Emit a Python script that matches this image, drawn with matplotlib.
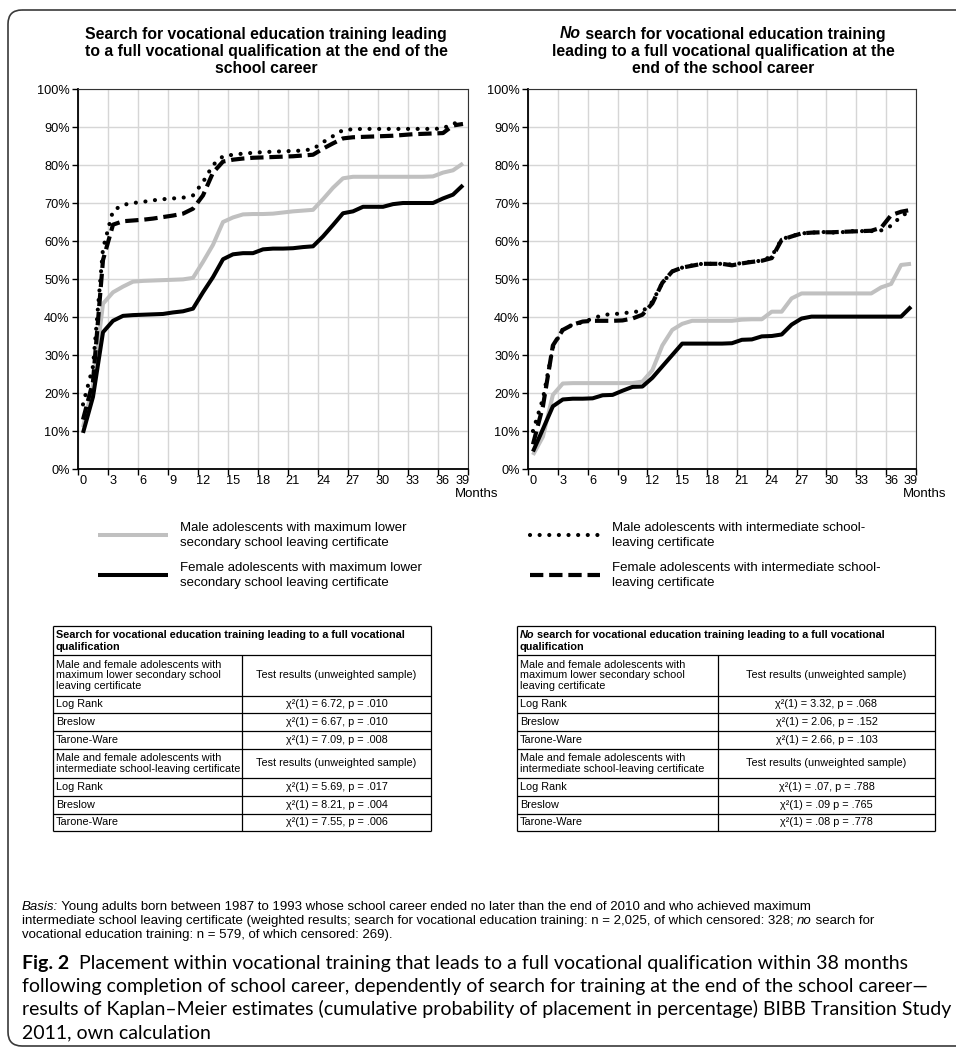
import matplotlib.pyplot as plt
import numpy as np
from matplotlib.patches import FancyBboxPatch

plt.rcParams['font.family'] = ['Liberation Sans', 'DejaVu Sans']

# === Data ===
MONTHS = np.arange(39)
LABEL_MONTHS = [0, 3, 6, 9, 12, 15, 18, 21, 24, 27, 30, 33, 36, 38]
LABEL_TEXT = ['0', '3', '6', '9', '12', '15', '18', '21', '24', '27', '30', '33', '36', '39']
Y_TICKS = np.arange(0, 101, 10)

# left panel: search for training
SEARCH_MALE_LOWER = [11, 22, 43.5, 46.5, 48, 49.3, 49.5, 49.6, 49.7, 49.8, 49.9, 50.3, 54.5, 59,
                     65, 66.2, 67, 67.1, 67.1, 67.2, 67.5, 67.8, 68, 68.2, 71, 74, 76.5, 76.9,
                     76.9, 76.9, 76.9, 76.9, 76.9, 76.9, 76.9, 77, 78, 78.6, 80.4]
SEARCH_FEMALE_LOWER = [9.5, 19, 36, 39, 40.3, 40.5, 40.6, 40.7, 40.8, 41.2, 41.5, 42.2, 46.5, 50.5,
                       55.2, 56.5, 56.8, 56.8, 57.8, 58, 58, 58.1, 58.4, 58.6, 61.2, 64.2, 67.3, 67.8,
                       69, 69, 69, 69.7, 70, 70, 70, 70, 71.2, 72.2, 74.7]
SEARCH_MALE_INTER = [17, 27, 58, 68, 69.5, 70, 70.3, 70.7, 71, 71.2, 71.4, 72, 75.5, 80,
                     82.3, 82.7, 83, 83.2, 83.4, 83.5, 83.6, 83.7, 83.8, 84.2, 86, 87.6, 89.2, 89.4,
                     89.5, 89.5, 89.5, 89.5, 89.5, 89.5, 89.5, 89.5, 89.6, 91, 90.8]
SEARCH_FEMALE_INTER = [13, 23, 55, 64.3, 65.2, 65.4, 65.6, 65.9, 66.3, 66.7, 67.2, 68.5, 72, 78,
                       80.9, 81.4, 81.7, 81.9, 82, 82.1, 82.2, 82.3, 82.5, 82.7, 84.3, 85.7, 87, 87.3,
                       87.4, 87.5, 87.6, 87.7, 87.9, 88.1, 88.2, 88.3, 88.4, 90.4, 90.8]

# right panel: no search for training
NOSEARCH_MALE_LOWER = [3.7, 8.5, 19.5, 22.5, 22.6, 22.6, 22.6, 22.6, 22.6, 22.6, 22.6, 23, 26, 32.5,
                       36.6, 38.2, 39, 39, 39, 39, 39, 39.3, 39.4, 39.4, 41.4, 41.4, 44.9, 46.2,
                       46.2, 46.2, 46.2, 46.2, 46.2, 46.2, 46.2, 47.8, 48.7, 53.7, 54]
NOSEARCH_FEMALE_LOWER = [4.6, 10.5, 16.5, 18.3, 18.5, 18.5, 18.6, 19.4, 19.5, 20.6, 21.6, 21.7, 24, 27,
                         30, 33, 33, 33, 33, 33, 33.1, 34, 34.1, 34.9, 35, 35.4, 38, 39.6,
                         40.1, 40.1, 40.1, 40.1, 40.1, 40.1, 40.1, 40.1, 40.1, 40.1, 42.7]
NOSEARCH_MALE_INTER = [10, 18.5, 32, 36.8, 38, 38.6, 39.6, 40.5, 40.8, 40.9, 41.4, 41.4, 44, 49,
                       52, 53, 53.6, 54, 54, 54, 53.8, 54.2, 54.6, 54.8, 56, 60.5, 61.3, 62,
                       62.2, 62.4, 62.2, 62.3, 62.6, 62.6, 62.6, 62.8, 64, 66.5, 68]
NOSEARCH_FEMALE_INTER = [6.5, 16.5, 32.5, 36.6, 38, 38.8, 39, 39, 39, 39.1, 39.6, 40.6, 43.6, 49,
                         52, 53, 53.5, 54, 54, 54, 53.6, 54.1, 54.5, 54.8, 55.5, 60.3, 61.2, 62,
                         62.2, 62.3, 62.3, 62.4, 62.5, 62.6, 62.7, 63.5, 66.8, 67.7, 68.2]

SERIES_LABELS = ["Male adolescents with maximum lower\nsecondary school leaving certificate",
                 "Female adolescents with maximum lower\nsecondary school leaving certificate",
                 "Male adolescents with intermediate school-\nleaving certificate",
                 "Female adolescents with intermediate school-\nleaving certificate"]

# test tables
GROUP_LABELS = ["Male and female adolescents with\nmaximum lower secondary school\nleaving certificate",
                "Male and female adolescents with\nintermediate school-leaving certificate"]
RESULT_HEADER = "Test results (unweighted sample)"
TEST_NAMES = ["Log Rank", "Breslow", "Tarone-Ware"]
SEARCH_RESULTS = ["χ²(1) = 6.72, p = .010", "χ²(1) = 6.67, p = .010", "χ²(1) = 7.09, p = .008",
                  "χ²(1) = 5.69, p = .017", "χ²(1) = 8.21, p = .004", "χ²(1) = 7.55, p = .006"]
NOSEARCH_RESULTS = ["χ²(1) = 3.32, p = .068", "χ²(1) = 2.06, p = .152", "χ²(1) = 2.66, p = .103",
                    "χ²(1) = .07, p = .788", "χ²(1) = .09 p = .765", "χ²(1) = .08 p = .778"]

# === Styles ===
STYLES = [dict(color='#c0c0c0', lw=2.9, ls='-', solid_capstyle='butt'),
          dict(color='black', lw=2.9, ls='-', solid_capstyle='butt'),
          dict(color='black', lw=3.0, ls=(0, (0.01, 2.3)), dash_capstyle='round'),
          dict(color='black', lw=3.0, ls=(0, (3.2, 1.4)), dash_capstyle='butt')]
W, H = 956, 1050
TITLE_FS = 11.3
TABLE_FS = 7.8
NOTE_FS = 9.5
CAP_FS = 14

fig = plt.figure(figsize=(W / 100, H / 100), dpi=100)
ov = fig.add_axes([0, 0, 1, 1])
ov.set_xlim(0, W)
ov.set_ylim(H, 0)
ov.axis('off')
renderer = fig.canvas.get_renderer()


def rich_line(x, y, parts, ha='left', size=9, family=None):
    texts, cx = [], x
    for s, kw in parts:
        t = ov.text(cx, y, s, fontsize=size, va='baseline', ha='left', **kw)
        if family:
            t.set_family(family)
        cx += t.get_window_extent(renderer).width
        texts.append(t)
    if ha == 'center':
        shift = (cx - x) / 2
        for t in texts:
            t.set_x(t.get_position()[0] - shift)


def draw_panel(rect, series, title_lines, title_cx):
    ax = fig.add_axes([rect[0] / W, 1 - rect[3] / H, (rect[2] - rect[0]) / W, (rect[3] - rect[1]) / H])
    lines = []
    for vals, st in zip(series, STYLES):
        lines += ax.plot(MONTHS, vals, **st)
    ax.set_xlim(-0.5, 38.5)
    ax.set_ylim(0, 100)
    ax.set_xticks(np.arange(-0.5, 39, 3))
    ax.set_xticklabels([])
    ax.set_xticks(LABEL_MONTHS, minor=True)
    ax.set_xticklabels(LABEL_TEXT, minor=True, fontsize=9.2)
    ax.tick_params(axis='x', which='minor', length=0, pad=4)
    ax.set_yticks(Y_TICKS)
    ax.set_yticklabels([f"{v}%" for v in Y_TICKS], fontsize=9.2)
    ax.tick_params(which='major', length=4, width=1, direction='out', pad=2)
    ax.grid(True, which='major', color='#d6d6d6', lw=1)
    ax.set_axisbelow(True)
    for side in ['left', 'bottom']:
        ax.spines[side].set_linewidth(1.3)
    for side in ['top', 'right']:
        ax.spines[side].set_color('#333333')
    for i, parts in enumerate(title_lines):
        rich_line(title_cx, 38.5 + 17.3 * i, parts, ha='center', size=TITLE_FS)
    ov.text(rect[2] + 30, 497, "Months", fontsize=9.5, ha='right', va='baseline')
    return lines


B = dict(weight='bold')
BI = dict(weight='bold', style='italic')
lines = draw_panel((78, 89, 468, 469),
                   [SEARCH_MALE_LOWER, SEARCH_FEMALE_LOWER, SEARCH_MALE_INTER, SEARCH_FEMALE_INTER],
                   [[("Search for vocational education training leading", B)],
                    [("to a full vocational qualification at the end of the", B)],
                    [("school career", B)]], 266)
draw_panel((528, 89, 916, 469),
           [NOSEARCH_MALE_LOWER, NOSEARCH_FEMALE_LOWER, NOSEARCH_MALE_INTER, NOSEARCH_FEMALE_INTER],
           [[("No", BI), (" search for vocational education training", B)],
            [("leading to a full vocational qualification at the", B)],
            [("end of the school career", B)]], 723)

leg = fig.legend(lines, SERIES_LABELS, ncol=2, loc='upper left', bbox_to_anchor=(98 / W, 1 - 522 / H),
                 frameon=False, fontsize=9.5, handlelength=5.3, handletextpad=0.9, columnspacing=8.2,
                 labelspacing=1.0, borderpad=0, borderaxespad=0)
for t in leg.get_texts():
    t.set_linespacing(1.3)


def row_h(n):
    return 6.5 + 11.3 * n


def draw_table(x0, xs, x1, top, title_parts, results):
    rows = [(GROUP_LABELS[0], RESULT_HEADER)] + list(zip(TEST_NAMES, results[:3]))
    rows += [(GROUP_LABELS[1], RESULT_HEADER)] + list(zip(TEST_NAMES, results[3:]))
    y = top
    rich_line(x0 + 3, y + 12, title_parts[0], size=TABLE_FS)
    rich_line(x0 + 3, y + 24, title_parts[1], size=TABLE_FS)
    ov.hlines(y, x0, x1, color='black', lw=0.9)
    y += row_h(2)
    ov.hlines(y, x0, x1, color='black', lw=0.9)
    ys = y
    for left, right in rows:
        h = row_h(left.count('\n') + 1)
        ov.text(x0 + 3, y + h / 2, left, fontsize=TABLE_FS, va='center', ha='left', linespacing=1.05)
        ov.text((xs + x1) / 2, y + h / 2, right, fontsize=TABLE_FS, va='center', ha='center')
        y += h
        ov.hlines(y, x0, x1, color='black', lw=0.9)
    ov.vlines([x0, x1], top, y, color='black', lw=0.9)
    ov.vlines(xs, ys, y, color='black', lw=0.9)


draw_table(53, 242, 431, 626,
           [[("Search for vocational education training leading to a full vocational", B)],
            [("qualification", B)]], SEARCH_RESULTS)
draw_table(517, 718, 935, 626,
           [[("No", BI), (" search for vocational education training leading to a full vocational", B)],
            [("qualification", B)]], NOSEARCH_RESULTS)

# basis note
IT = dict(style='italic')
R = dict()
rich_line(22, 910, [("Basis:", IT), (" Young adults born between 1987 to 1993 whose school career ended no later "
                                     "than the end of 2010 and who achieved maximum", R)], size=NOTE_FS)
rich_line(22, 924, [("intermediate school leaving certificate (weighted results; search for vocational education "
                     "training: n = 2,025, of which censored: 328; ", R), ("no", IT), (" search for", R)],
          size=NOTE_FS)
rich_line(22, 938, [("vocational education training: n = 579, of which censored: 269).", R)], size=NOTE_FS)

# caption
CAP = ['Lato', 'DejaVu Sans']
rich_line(22, 969, [("Fig. 2", B), ("  Placement within vocational training that leads to a full vocational "
                                    "qualification within 38 months", R)], size=CAP_FS, family=CAP)
rich_line(22, 992, [("following completion of school career, dependently of search for training at the end "
                     "of the school career\u2014", R)], size=CAP_FS, family=CAP)
rich_line(22, 1015, [("results of Kaplan\u2013Meier estimates (cumulative probability of placement in percentage) "
                      "BIBB Transition Study", R)], size=CAP_FS, family=CAP)
rich_line(22, 1038, [("2011, own calculation", R)], size=CAP_FS, family=CAP)

ov.add_patch(FancyBboxPatch((8, 10), 1000, 1036, boxstyle='round,pad=0,rounding_size=14',
                            fill=False, ec='#3a3a3a', lw=1.2))

fig.savefig('out.png', dpi=100, facecolor='white')
